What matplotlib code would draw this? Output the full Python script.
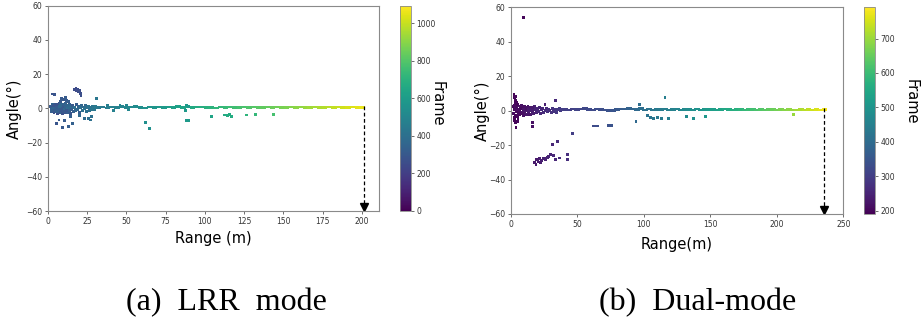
import numpy as np
import matplotlib
matplotlib.use("Agg")
import matplotlib.pyplot as plt
from matplotlib.colors import Normalize

# ---------------- (a) LRR mode ----------------
# near-range clutter of the target
a_near_range = [2.0, 2.5, 3.0, 3.2, 3.6, 4.0, 4.3, 4.8, 5.1, 5.5,
                6.0, 6.2, 6.7, 7.0, 7.4, 7.8, 8.1, 8.5, 8.9, 9.2,
                9.6, 10.0, 10.3, 10.8, 11.1, 11.5, 12.0, 12.3, 12.8, 13.2,
                13.6, 14.0, 14.5, 15.0, 15.4, 16.0, 16.5, 17.0, 17.6, 18.2,
                18.8, 19.4, 20.0, 20.7, 21.3, 22.0, 22.6, 23.3, 24.0, 24.6,
                25.2, 25.9, 26.5, 27.2, 27.8, 28.5, 29.1, 29.8, 30.5, 31.2,
                2.2, 3.4, 4.6, 5.8, 7.2, 8.4, 9.8, 11.0, 12.6, 14.2,
                2.8, 4.1, 5.3, 6.5, 7.6, 9.0, 10.5, 11.8, 13.4, 15.2]
a_near_angle = [1.2, -2.1, 0.4, 2.0, -1.0, -2.6, 1.5, -0.3, 2.3, -1.7,
                0.6, -2.9, 1.9, -0.9, 2.6, -2.2, 0.2, 1.4, -1.4, -3.2,
                2.1, -0.6, 1.0, -2.4, 2.8, 0.1, -1.8, 1.6, -2.7, 0.7,
                2.2, -1.1, -3.0, 1.3, -0.4, 1.9, -2.0, 0.5, -1.5, 2.4,
                -0.8, 1.1, -2.3, 0.3, 1.7, -1.3, 0.8, -0.2, 1.5, -1.9,
                0.4, 1.2, -1.0, 0.6, -0.5, 1.0, 0.2, -0.7, 0.9, 0.3,
                -0.5, 1.8, -1.3, 0.9, -2.5, 2.0, -1.6, 0.3, -2.2, 0.9,
                0.2, -1.5, 2.4, -2.0, 1.1, -0.4, 2.5, -1.2, 1.6, -0.7]
a_near_frame = [300, 320, 280, 350, 310, 270, 360, 330, 290, 340,
                300, 260, 370, 320, 280, 350, 310, 380, 290, 270,
                340, 360, 300, 280, 330, 390, 310, 350, 270, 370,
                320, 340, 290, 380, 360, 300, 330, 390, 350, 310,
                370, 340, 320, 390, 360, 400, 380, 410, 370, 400,
                390, 420, 400, 410, 430, 420, 440, 430, 450, 440,
                330, 290, 350, 310, 280, 360, 300, 340, 320, 370,
                350, 310, 280, 330, 370, 300, 340, 290, 360, 320]

# main track of the target
a_track_range = [32, 35, 38, 41, 44, 47, 50, 53, 56, 59,
                 62, 65, 68, 71, 74, 77, 80, 83, 86, 89,
                 92, 95, 98, 101, 104, 107, 110, 113, 116, 119,
                 122, 125, 128, 131, 134, 137, 140, 143, 146, 149,
                 152, 155, 158, 161, 164, 167, 170, 173, 176, 179,
                 182, 185, 188, 191, 194, 197, 200]
a_track_angle = [0.6, 0.9, 0.3, 0.8, 0.5, 1.1, 0.4, 0.7, 1.2, 0.5,
                 0.3, 0.8, 0.6, 0.9, 0.4, 0.7, 0.5, 1.0, 0.6, 0.8,
                 0.4, 0.7, 0.9, 0.5, 0.6, 0.3, 0.8, 0.5, 0.7, 0.4,
                 0.6, 0.9, 0.5, 0.7, 0.4, 0.6, 0.8, 0.5, 0.7, 0.6,
                 0.4, 0.7, 0.5, 0.8, 0.6, 0.4, 0.7, 0.5, 0.6, 0.8,
                 0.5, 0.7, 0.4, 0.6, 0.8, 0.5, 0.6]
a_track_frame = [440, 452, 462, 472, 484, 494, 506, 516, 528, 538,
                 550, 560, 572, 584, 594, 604, 616, 626, 638, 648,
                 660, 670, 682, 694, 704, 716, 726, 738, 748, 760,
                 770, 782, 792, 804, 814, 826, 836, 848, 858, 870,
                 880, 892, 902, 914, 926, 936, 948, 958, 970, 980,
                 992, 1002, 1014, 1026, 1036, 1048, 1058]

# scattered detections off the track
a_other_range = [17.0, 18.0, 19.0, 20.0, 19.5, 20.6, 21.2, 18.5,
                 3.2, 4.2, 9.0, 10.0, 11.2, 12.0, 8.0, 13.5, 31.0,
                 5.7, 7.2, 9.5, 13.0, 16.0, 10.5, 14.5, 23.7, 27.0, 28.0, 20.0, 26.0,
                 62.3, 64.6, 88.3, 89.5, 88.5, 87.5, 89.5,
                 104.4, 112.7, 114.5, 117.0, 115.5, 126.5, 132.0, 143.4,
                 50.0, 51.5, 46.0, 38.0, 42.0]
a_other_angle = [11.0, 11.6, 11.2, 10.6, 9.6, 8.6, 7.6, 10.2,
                 8.4, 7.9, 6.0, 5.2, 6.2, 4.6, 4.0, 3.8, 5.8,
                 -8.8, -6.8, -11.3, -10.7, -8.8, -7.2, -5.0, -5.8, -6.8, -4.9, -4.0, -6.0,
                 -8.4, -11.7, -7.2, -7.0, 1.8, -1.0, 1.0,
                 -4.5, -3.9, -4.2, -4.5, -3.6, -3.9, -3.5, -3.7,
                 1.5, -0.8, 1.6, 1.4, -1.0]
a_other_frame = [250, 250, 255, 255, 260, 260, 265, 250,
                 280, 285, 300, 300, 310, 310, 300, 320, 430,
                 290, 300, 300, 320, 330, 310, 330, 380, 400, 400, 370, 395,
                 540, 545, 590, 592, 590, 588, 592,
                 640, 665, 670, 675, 672, 710, 730, 770,
                 500, 505, 490, 465, 475]

a_frame_min, a_frame_max = 0, 1094
a_last_range = 201

# ---------------- (b) Dual-mode ----------------
b_near_range = [2.0, 2.4, 2.8, 3.1, 3.5, 3.9, 4.3, 4.7, 5.0, 5.4,
                5.8, 6.2, 6.6, 7.0, 7.4, 7.8, 8.2, 8.6, 9.0, 9.4,
                9.8, 10.2, 10.7, 11.1, 11.6, 12.0, 12.5, 13.0, 13.5, 14.0,
                14.5, 15.0, 15.6, 16.2, 16.8, 17.4, 18.0, 18.7, 19.4, 20.1,
                20.8, 21.6, 22.4, 23.2, 24.0, 24.9, 25.8, 26.7, 27.6, 28.5,
                29.5, 30.5, 31.5, 32.5, 33.5, 34.5, 35.5, 36.6, 37.7, 38.8,
                2.5, 3.0, 3.3, 3.8, 4.2, 4.5, 3.0, 3.6, 4.0, 5.0,
                2.8, 5.5, 4.8, 3.5, 6.0, 7.5, 9.2, 11.5, 13.8, 16.5]
b_near_angle = [2.5, -1.8, 0.6, 3.2, -2.8, 1.4, -0.5, 2.1, -3.3, 0.9,
                -1.2, 2.7, -2.3, 0.2, 1.8, -1.6, 3.0, -0.8, 1.1, -2.6,
                0.5, 2.3, -1.4, -0.2, 1.6, -2.1, 0.8, 2.6, -1.0, 0.1,
                1.9, -2.4, 0.7, -0.6, 1.3, -1.7, 2.2, 0.4, -1.1, 1.0,
                -0.4, 1.7, -1.5, 0.6, 1.2, -0.9, 0.3, 1.5, -0.7, 0.9,
                0.2, -1.2, 1.1, -0.3, 0.8, -0.8, 0.5, 1.0, -0.2, 0.7,
                9.5, 7.5, 6.0, 8.0, 5.0, 4.2, -5.5, -7.0, -9.6, -6.2,
                -3.8, -4.5, 3.5, 4.6, -2.0, 1.2, -1.9, 0.5, -2.5, 1.8]
b_near_frame = [195, 205, 200, 210, 198, 215, 202, 208, 196, 212,
                204, 218, 200, 210, 220, 206, 214, 224, 210, 218,
                226, 214, 222, 230, 218, 226, 234, 222, 230, 238,
                226, 234, 242, 236, 244, 238, 246, 250, 244, 252,
                256, 250, 258, 262, 256, 264, 268, 262, 270, 274,
                270, 276, 280, 278, 284, 286, 288, 292, 290, 296,
                195, 196, 198, 200, 197, 199, 196, 198, 195, 200,
                197, 201, 199, 198, 204, 208, 212, 216, 222, 230]

b_track_range = [41, 44, 47, 50, 53, 56, 59, 62, 65, 68,
                 71, 74, 77, 80, 83, 86, 89, 92, 95, 98,
                 101, 104, 107, 110, 113, 116, 119, 122, 125, 128,
                 131, 134, 137, 140, 143, 146, 149, 152, 155, 158,
                 161, 164, 167, 170, 173, 176, 179, 182, 185, 188,
                 191, 194, 197, 200, 203, 206, 209, 212, 215, 218,
                 221, 224, 227, 230, 233, 236]
b_track_angle = [0.8, 0.5, 1.0, 0.6, 0.9, 1.2, 0.7, 0.4, 0.9, 0.6,
                 0.3, 0.1, 0.2, 0.6, 0.9, 1.1, 1.3, 1.0, 0.7, 1.2,
                 0.5, 0.9, 0.4, 0.8, 0.6, 1.0, 0.5, 0.7, 0.9, 0.4,
                 0.6, 0.8, 0.5, 0.9, 0.4, 0.7, 0.6, 0.8, 0.5, 0.7,
                 0.9, 0.6, 0.4, 0.7, 0.8, 0.5, 0.6, 0.7, 0.4, 0.6,
                 0.5, 0.8, 0.6, 0.4, 0.7, 0.5, 0.6, 0.3, 0.5, 0.7,
                 0.4, 0.6, 0.5, 0.7, 0.4, 0.6]
b_track_frame = [300, 303, 307, 311, 314, 318, 322, 325, 329, 333,
                 337, 341, 347, 353, 360, 368, 376, 384, 394, 404,
                 414, 420, 426, 432, 438, 444, 450, 456, 462, 469,
                 476, 482, 489, 496, 503, 510, 517, 524, 532, 540,
                 548, 556, 564, 572, 580, 590, 600, 609, 618, 627,
                 636, 645, 654, 663, 672, 681, 690, 699, 708, 717,
                 726, 736, 746, 756, 766, 780]

b_other_range = [9.5, 33.8, 25.8, 16.3, 16.3, 46.6, 31.3, 35.0,
                 18.0, 19.0, 19.5, 20.5, 21.5, 22.5, 23.5, 24.5, 25.5, 26.5,
                 27.5, 28.5, 30.0, 32.0, 33.5, 36.5, 43.0, 43.0,
                 62.0, 63.5, 65.0, 73.4, 76.0, 94.2, 97.0,
                 103.0, 105.0, 107.5, 110.0, 113.0, 116.0, 118.5,
                 131.8, 137.3, 146.6, 212.5]
b_other_angle = [54.2, 5.8, 3.7, -7.0, -9.3, -13.5, -19.9, -18.0,
                 -30.0, -31.0, -28.5, -29.5, -28.0, -30.0, -29.0, -28.0, -27.5, -28.5,
                 -27.0, -26.5, -25.5, -26.0, -28.5, -27.5, -25.5, -28.5,
                 -8.9, -8.9, -8.9, -8.5, -8.5, -6.4, 3.3,
                 -3.0, -4.2, -4.4, -4.0, -4.8, 7.5, -4.4,
                 -3.4, -4.3, -3.4, -2.3]
b_other_frame = [200, 260, 240, 215, 215, 300, 255, 265,
                 230, 230, 232, 234, 236, 238, 240, 242, 244, 246,
                 248, 250, 252, 256, 258, 264, 272, 272,
                 326, 327, 329, 340, 344, 392, 402,
                 418, 422, 428, 432, 438, 444, 448,
                 476, 489, 510, 699]

b_frame_min, b_frame_max = 190, 791
b_last_range = 235.5

# ---------------- figure ----------------
W, H = 924, 325
fig = plt.figure(figsize=(W / 100, H / 100), dpi=100)

def frac(x0, y0, x1, y1):
    return [x0 / W, 1 - y1 / H, (x1 - x0) / W, (y1 - y0) / H]

tick_kw = dict(labelsize=5.5, length=2.5, width=0.6, colors='#555555',
               labelcolor='#333333', pad=1.5)
spine_color = '#8a8a8a'

# small square for single detections, flat dash for the dense track
dot = dict(marker='s', s=4.5)
dash = dict(marker=[(-1.0, -0.45), (1.0, -0.45), (1.0, 0.45), (-1.0, 0.45)], s=16)


def panel(ax_box, cax_box, groups, vmin, vmax, xlim, xticks, cticks,
          last_range, xlabel, xlab_y, ylab_x, frame_xy):
    ax = fig.add_axes(frac(*ax_box))
    cax = fig.add_axes(frac(*cax_box))
    norm = Normalize(vmin=vmin, vmax=vmax)
    sc = None
    for rng, ang, frm, mk in groups:
        sc = ax.scatter(rng, ang, c=frm, cmap='viridis', norm=norm,
                        linewidths=0, **mk)
    # dashed arrow marking the farthest detection range
    ax.plot([last_range, last_range], [1.5, -57.5], color='black', lw=0.9,
            ls=(0, (3, 2)))
    ax.plot([last_range], [-57.5], marker='v', color='black', ms=5.5,
            clip_on=False)
    ax.set_xlim(*xlim)
    ax.set_ylim(-60, 60)
    ax.set_xticks(xticks)
    ax.set_yticks(np.arange(-60, 61, 20))
    ax.tick_params(**tick_kw)
    for sp in ax.spines.values():
        sp.set_color(spine_color)
        sp.set_linewidth(0.8)
    ax.set_xlabel(xlabel, fontsize=10.5)
    ax.set_ylabel('Angle(°)', fontsize=10.5)
    ax.xaxis.set_label_coords(0.5, xlab_y)
    ax.yaxis.set_label_coords(ylab_x, 0.5)

    cb = fig.colorbar(sc, cax=cax)
    cb.set_ticks(cticks)
    cb.ax.tick_params(**tick_kw)
    cb.outline.set_edgecolor(spine_color)
    cb.outline.set_linewidth(0.6)
    fig.text(frame_xy[0] / W, 1 - frame_xy[1] / H, 'Frame', fontsize=10.5,
             rotation=270, ha='center', va='center')
    return ax


panel((47.7, 5.7, 379.3, 211.0), (400.0, 5.7, 410.7, 211.0),
      [(a_near_range, a_near_angle, a_near_frame, dot),
       (a_track_range, a_track_angle, a_track_frame, dash),
       (a_other_range, a_other_angle, a_other_frame, dot)],
      a_frame_min, a_frame_max, (0, 211), np.arange(0, 201, 25),
      np.arange(0, 1001, 200), a_last_range, 'Range (m)', -0.097, -0.078,
      (437.5, 104))

panel((510.7, 7.3, 843.3, 214.0), (864.3, 7.3, 875.0, 214.0),
      [(b_near_range, b_near_angle, b_near_frame, dot),
       (b_track_range, b_track_angle, b_track_frame, dash),
       (b_other_range, b_other_angle, b_other_frame, dot)],
      b_frame_min, b_frame_max, (0, 250), np.arange(0, 251, 50),
      np.arange(200, 701, 100), b_last_range, 'Range(m)', -0.111, -0.064,
      (911, 102))

cap_kw = dict(family='Liberation Serif', fontsize=23, ha='center', va='center')
fig.text(226 / W, 1 - 303 / H, '(a)  LRR  mode', **cap_kw)
fig.text(698 / W, 1 - 303 / H, '(b)  Dual-mode', **cap_kw)

fig.savefig('out.png', dpi=100)
